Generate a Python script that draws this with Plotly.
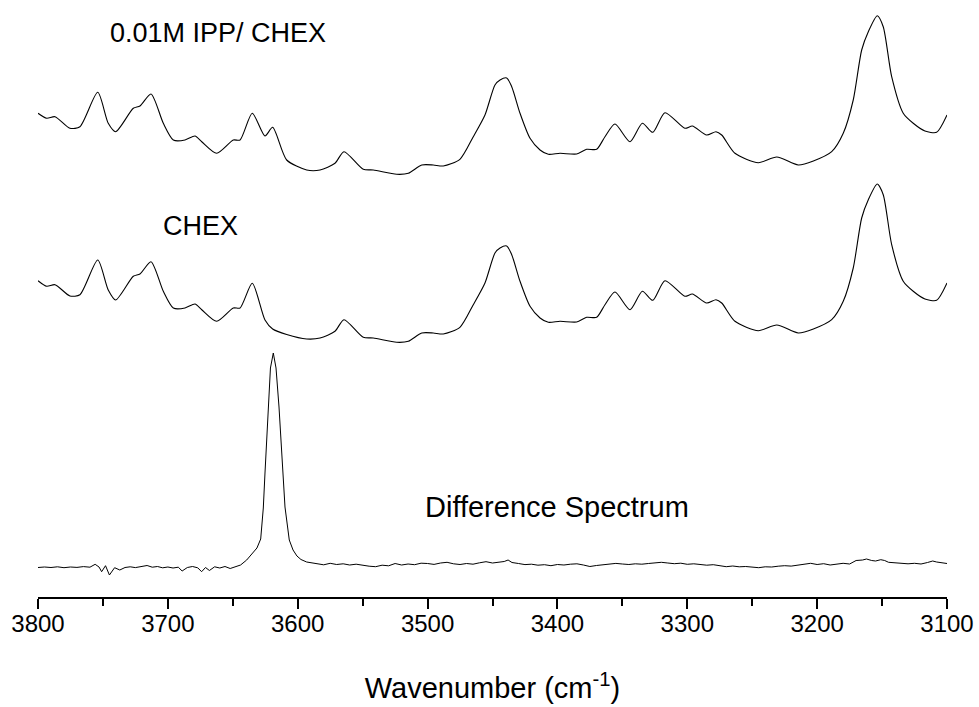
import plotly.graph_objects as go

# ---------------- data ----------------
wn_main = [3800, 3793.3, 3786.9, 3775.4, 3767.7, 3754.0, 3745.9, 3740.2, 3726.6, 3721.5,
           3713.0, 3703.5, 3695.8, 3686.8, 3679.1, 3673.9, 3662.4, 3649.6, 3644.4, 3635.0,
           3625.2, 3619.3, 3608.5, 3593.1, 3582.8, 3571.3, 3564.4, 3549.5, 3541.8, 3523.8,
           3514.8, 3504.5, 3495.6, 3487.9, 3475.1, 3464.8, 3455.8, 3448.1, 3444.2, 3439.1,
           3435.2, 3428.8, 3421.1, 3413.4, 3407.0, 3398.0, 3385.2, 3377.5, 3369.8, 3363.4,
           3355.7, 3344.1, 3334.6, 3326.6, 3317.2, 3301.8, 3296.1, 3285.1, 3277.9, 3273.5,
           3263.3, 3245.3, 3231.1, 3214.5, 3202.9, 3188.8, 3179.9, 3172.2, 3165.7, 3160.6,
           3153.7, 3149.1, 3142.6, 3133.7, 3126.0, 3117.0, 3108.0, 3100]

ipp_chex = [0.617, 0.567, 0.583, 0.467, 0.483, 0.827, 0.517, 0.433, 0.667, 0.690,
            0.810, 0.517, 0.350, 0.350, 0.390, 0.333, 0.217, 0.350, 0.350, 0.617,
            0.390, 0.477, 0.150, 0.050, 0.050, 0.117, 0.233, 0.057, 0.050, 0.007,
            0.017, 0.100, 0.100, 0.090, 0.157, 0.383, 0.600, 0.900, 0.950, 0.970,
            0.883, 0.617, 0.367, 0.250, 0.207, 0.217, 0.210, 0.257, 0.257, 0.383,
            0.510, 0.333, 0.517, 0.427, 0.623, 0.467, 0.490, 0.400, 0.433, 0.400,
            0.217, 0.123, 0.180, 0.100, 0.140, 0.233, 0.417, 0.750, 1.250, 1.433,
            1.593, 1.483, 0.983, 0.617, 0.517, 0.440, 0.427, 0.600]

chex = [0.623, 0.567, 0.583, 0.470, 0.483, 0.830, 0.530, 0.430, 0.667, 0.690,
        0.813, 0.517, 0.350, 0.350, 0.390, 0.333, 0.217, 0.350, 0.350, 0.597,
        0.230, 0.140, 0.085, 0.040, 0.050, 0.117, 0.233, 0.057, 0.050, 0.007,
        0.017, 0.100, 0.100, 0.090, 0.157, 0.383, 0.600, 0.900, 0.950, 0.970,
        0.883, 0.617, 0.367, 0.250, 0.207, 0.217, 0.210, 0.257, 0.257, 0.383,
        0.510, 0.333, 0.517, 0.427, 0.623, 0.467, 0.490, 0.400, 0.433, 0.400,
        0.217, 0.123, 0.180, 0.100, 0.140, 0.233, 0.417, 0.750, 1.250, 1.433,
        1.590, 1.483, 0.983, 0.617, 0.517, 0.440, 0.427, 0.600]

wn_diff = [3800, 3795, 3790, 3785, 3780, 3775, 3770, 3765, 3760, 3756, 3753, 3751, 3748, 3745,
           3741, 3737, 3733, 3729, 3725, 3720, 3716, 3712, 3708, 3704, 3700, 3696, 3692, 3689,
           3685, 3681, 3677, 3674, 3671, 3668, 3664, 3660, 3656, 3652, 3648, 3644, 3639.3,
           3635.2, 3631.4, 3628.5, 3626.5, 3625.2, 3622.7, 3621.0, 3618.8, 3616.7, 3614.4,
           3611.6, 3609.8, 3606.5, 3603.6, 3600.6, 3597.5, 3593.1,
           3590, 3585, 3580, 3575, 3570, 3565, 3560, 3555, 3550, 3545, 3540, 3535, 3530, 3525,
           3520, 3515, 3510, 3505, 3500, 3495, 3490, 3485, 3480, 3475, 3470, 3465, 3460, 3455,
           3450, 3445, 3441, 3438, 3435, 3430, 3425, 3420, 3415, 3410, 3405, 3400, 3395, 3390,
           3385, 3380, 3375, 3370, 3365, 3360, 3355, 3350, 3345, 3340, 3335, 3330, 3325, 3320,
           3315, 3310, 3305, 3300, 3295, 3290, 3285, 3280, 3275, 3270, 3265, 3260, 3255, 3250,
           3245, 3240, 3235, 3230, 3225, 3220, 3215, 3210, 3205, 3200, 3195, 3190, 3185, 3180,
           3175, 3170, 3165, 3162, 3158, 3155, 3151, 3148, 3145, 3140, 3135, 3130, 3125, 3120,
           3115, 3111, 3108, 3105, 3100]

difference = [0.005, 0.010, 0.005, 0.012, 0.003, 0.010, 0.006, 0.014, 0.008, 0.037, 0.010, -0.037,
              0.023, -0.070, 0.003, -0.020, 0.005, 0.012, 0.004, 0.015, 0.025, 0.008, 0.015,
              0.002, 0.010, 0.000, 0.008, -0.030, 0.005, 0.015, 0.002, -0.037, 0.005, -0.025,
              0.012, 0.000, 0.015, -0.005, 0.010, 0.030, 0.080,
              0.140, 0.200, 0.290, 0.600, 0.950, 1.610, 2.000, 2.150, 2.000, 1.610,
              0.950, 0.610, 0.280, 0.180, 0.120, 0.085, 0.060,
              0.055, 0.040, 0.032, 0.047, 0.035, 0.042, 0.030, 0.038, 0.026, 0.018, 0.013, 0.028,
              0.022, 0.045, 0.030, 0.040, 0.033, 0.048, 0.045, 0.036, 0.050, 0.057, 0.042, 0.035,
              0.045, 0.038, 0.052, 0.063, 0.050, 0.060, 0.065, 0.080, 0.055, 0.045, 0.034, 0.038,
              0.028, 0.033, 0.023, 0.035, 0.030, 0.038, 0.042, 0.030, 0.015, 0.025, 0.032, 0.038,
              0.046, 0.040, 0.035, 0.042, 0.038, 0.045, 0.050, 0.057, 0.050, 0.043, 0.048, 0.037,
              0.042, 0.035, 0.028, 0.033, 0.020, 0.013, 0.020, 0.012, 0.015, 0.008, 0.003, 0.012,
              0.010, 0.018, 0.023, 0.019, 0.030, 0.040, 0.047, 0.035, 0.043, 0.030, 0.036, 0.047,
              0.040, 0.075, 0.080, 0.090, 0.075, 0.070, 0.083, 0.075, 0.057, 0.050, 0.048, 0.042,
              0.047, 0.040, 0.055, 0.070, 0.060, 0.057, 0.045]

# vertical offsets used to stack the three spectra
offset_ipp = 4.22
offset_chex = 2.54
offset_diff = 0.29

labels = ["0.01M IPP/ CHEX", "CHEX", "Difference Spectrum"]
tick_vals = [3800, 3700, 3600, 3500, 3400, 3300, 3200, 3100]

FONT = "Arial, Liberation Sans, Helvetica, sans-serif"

fig = go.Figure()
fig.add_trace(go.Scatter(x=wn_main, y=[v + offset_ipp for v in ipp_chex], mode="lines",
                         line=dict(color="black", width=1.1, shape="spline", smoothing=0.7),
                         hoverinfo="skip", showlegend=False))
fig.add_trace(go.Scatter(x=wn_main, y=[v + offset_chex for v in chex], mode="lines",
                         line=dict(color="black", width=1.1, shape="spline", smoothing=0.7),
                         hoverinfo="skip", showlegend=False))
fig.add_trace(go.Scatter(x=wn_diff, y=[v + offset_diff for v in difference], mode="lines",
                         line=dict(color="black", width=1.0),
                         hoverinfo="skip", showlegend=False))

fig.add_annotation(x=3746, y=5.64, xref="x", yref="y", text=labels[0], showarrow=False,
                   xanchor="left", yanchor="middle", font=dict(family=FONT, size=27, color="black"))
fig.add_annotation(x=3705, y=3.71, xref="x", yref="y", text=labels[1], showarrow=False,
                   xanchor="left", yanchor="middle", font=dict(family=FONT, size=27, color="black"))
fig.add_annotation(x=3503.5, y=0.90, xref="x", yref="y", text=labels[2], showarrow=False,
                   xanchor="left", yanchor="middle", font=dict(family=FONT, size=29, color="black"))

fig.update_layout(
    width=979, height=707,
    margin=dict(l=38, r=32, t=0, b=110),
    paper_bgcolor="white", plot_bgcolor="white",
    font=dict(family=FONT, color="black"),
    xaxis=dict(range=[3800, 3100], tickvals=tick_vals, ticktext=[str(t) for t in tick_vals],
               showgrid=False, zeroline=False, showline=True, linecolor="black", linewidth=2,
               ticks="outside", ticklen=10, tickwidth=2, tickcolor="black",
               ticklabelstandoff=-6,
               tickfont=dict(family=FONT, size=24, color="black"),
               minor=dict(dtick=50, tick0=3800, ticks="outside", ticklen=7, tickwidth=2,
                          tickcolor="black", showgrid=False),
               title=dict(text="Wavenumber (cm<sup>-1</sup>)", standoff=42,
                          font=dict(family=FONT, size=29, color="black"))),
    yaxis=dict(range=[0, 5.97], visible=False, showgrid=False, zeroline=False),
)

fig.write_html("out.html", config={"displayModeBar": False},
               post_script="document.body.style.margin='0';")
